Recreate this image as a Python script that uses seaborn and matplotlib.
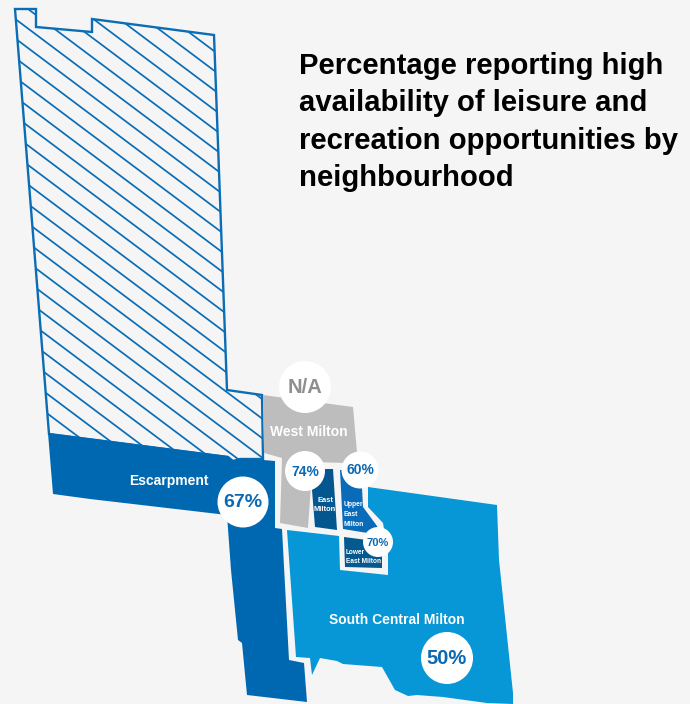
import numpy as np
import pandas as pd
import matplotlib
matplotlib.use("Agg")
import matplotlib.pyplot as plt
from matplotlib.patches import Polygon
import seaborn as sns

sns.set_theme(style="white")
plt.rcParams["font.family"] = ["Liberation Sans", "DejaVu Sans"]

# Survey results
neighbourhoods = ["West Milton", "East Milton", "Upper East Milton",
                  "Lower East Milton", "Escarpment", "South Central Milton"]
reported = ["N/A", "74%", "60%", "70%", "67%", "50%"]

# Neighbourhood boundaries, in map units (y grows southward)
rural_north = [(15, 9), (36, 9), (36, 27), (92, 32), (92, 19), (214, 35), (227, 390),
               (262, 395), (263, 459), (240, 459), (233, 461), (228, 457), (49, 434)]
escarpment = [(48, 433), (228, 456), (233, 461), (240, 458), (275, 461), (275, 528),
              (282, 529), (289, 660), (304, 663), (307, 702), (247, 695), (242, 643),
              (238, 640), (231, 570), (227, 515), (90, 499), (53, 494)]
west_milton = [(263, 395), (353, 407), (357, 452), (347, 463), (313, 462), (311, 485),
               (308, 528), (280, 523), (282, 458), (264, 453)]
east_milton = [(325, 469), (333, 469), (337, 530), (315, 527), (312, 490)]
upper_east = [(340, 470), (360, 470), (362, 488), (363, 507), (377, 526), (380, 535), (343, 529)]
lower_east = [(344, 537), (367, 540), (382, 550), (382, 568), (345, 567)]
south_central = [(368, 487), (497, 505), (499, 560), (505, 617), (513, 693), (513, 704),
                 (487, 703), (443, 697), (417, 695), (408, 696), (395, 690), (382, 667),
                 (343, 664), (337, 661), (320, 658), (312, 675), (310, 658), (296, 657),
                 (287, 530), (339, 536), (340, 570), (388, 575), (388, 552), (383, 523),
                 (368, 507)]

outlines = {"West Milton": west_milton, "East Milton": east_milton,
            "Upper East Milton": upper_east, "Lower East Milton": lower_east,
            "Escarpment": escarpment, "South Central Milton": south_central}
fills = {"West Milton": "#BDBDBD", "East Milton": "#04568F",
         "Upper East Milton": "#0A6BB8", "Lower East Milton": "#04598F",
         "Escarpment": "#0067B1", "South Central Milton": "#0796D6"}

background = "#F5F5F5"
line_blue = "#0A6DB5"
ink_blue = "#0B69B4"

fig = plt.figure(figsize=(6.9, 7.04), dpi=100, facecolor=background)
ax = fig.add_axes([0, 0, 1, 1])
ax.set_xlim(0, 690)
ax.set_ylim(704, 0)
ax.axis("off")

# Northern area: no data, diagonal line shading clipped to its boundary
north = Polygon(rural_north, closed=True, facecolor="none", edgecolor=line_blue, lw=1.7, zorder=2)
ax.add_patch(north)
for intercept in np.arange(7.5 - 19.5 * 12, 440, 19.5):
    shade, = ax.plot([0, 300], [intercept, intercept + 0.75 * 300], color=line_blue, lw=1.25, zorder=1)
    shade.set_clip_path(north)

for name in neighbourhoods:
    ax.add_patch(Polygon(outlines[name], closed=True, facecolor=fills[name], edgecolor="none", zorder=3))

# Value badges
badges = pd.DataFrame({
    "name": neighbourhoods,
    "label": reported,
    "x": [305, 305, 360, 378, 243, 447],
    "y": [387, 471, 470, 542, 502, 658],
    "radius": [26, 20, 18.5, 15, 25.5, 26],
    "fontsize": [14.5, 10, 10, 8, 14, 14.5],
})
sns.scatterplot(data=badges, x="x", y="y", s=(badges["radius"] * 2 * 0.72) ** 2,
                color="white", linewidth=0, legend=False, ax=ax, zorder=5)
for row in badges.itertuples():
    ax.text(row.x, row.y + 0.5, row.label, ha="center", va="center", fontsize=row.fontsize,
            fontweight="bold", color="#8E8E8E" if row.label == "N/A" else ink_blue, zorder=6)

# Neighbourhood names
label_style = dict(color="white", fontweight="bold", zorder=6)
ax.text(309, 432, "West Milton", ha="center", va="center", fontsize=10, **label_style)
ax.text(169, 481, "Escarpment", ha="center", va="center", fontsize=10, **label_style)
ax.text(397, 620, "South Central Milton", ha="center", va="center", fontsize=10, **label_style)
ax.text(325, 505, "East\nMilton", ha="center", va="center", fontsize=5.4, linespacing=1.5, **label_style)
ax.text(343.5, 514, "Upper\nEast\nMilton", ha="left", va="center", fontsize=4.9, linespacing=1.6, **label_style)
ax.text(346, 557, "Lower\nEast Milton", ha="left", va="center", fontsize=4.7, linespacing=1.3, **label_style)

ax.text(299, 122, "Percentage reporting high\navailability of leisure and\nrecreation opportunities by\nneighbourhood",
        ha="left", va="center", fontsize=21.1, fontweight="bold", color="black", linespacing=1.43, zorder=6)

fig.savefig("out.png", dpi=100, facecolor=background)
